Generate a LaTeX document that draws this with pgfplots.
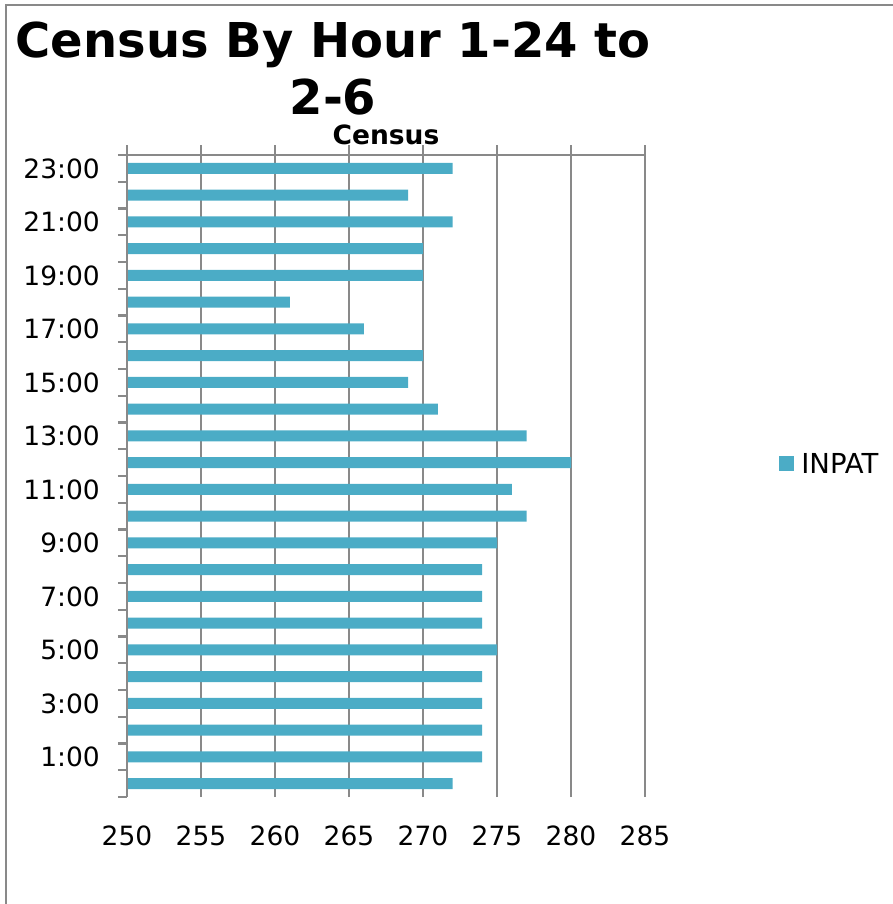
\documentclass[border=0pt]{standalone}
\usepackage{fontspec}
\setmainfont{DejaVu Sans}
\usepackage{pgfplots}
\pgfplotsset{compat=1.18}
\definecolor{inpat}{HTML}{4BACC6}
\definecolor{gridgray}{HTML}{898989}

\begin{document}
\begin{tikzpicture}
\useasboundingbox (0,0) rectangle (893pt,-904pt);
% chart frame (only left and top edges fall inside the picture)
\draw[gridgray, line width=2pt] (6pt,-930pt) -- (6pt,-5pt) -- (920pt,-5pt);

\node[font=\bfseries\fontsize{48}{57}\selectfont, anchor=base] at (333pt,-58pt) {Census By Hour 1-24 to};
\node[font=\bfseries\fontsize{48}{57}\selectfont, anchor=base] at (333pt,-115pt) {2-6};
\node[font=\bfseries\fontsize{26.5}{30}\selectfont, anchor=base] at (386pt,-145pt) {Census};

\begin{axis}[
    name=ax,
    at={(127pt,-797pt)}, anchor=south west,
    scale only axis, width=518pt, height=642pt,
    xmin=250, xmax=285, ymin=-0.5, ymax=23.5,
    xbar, bar width=11pt, bar shift=0pt,
    axis line style={draw=none},
    tick align=outside,
    major tick length=10pt, minor tick length=9pt,
    xtick={250,255,...,285},
    xtick pos=right, xticklabel pos=left,
    xmajorgrids,
    grid style={gridgray, line width=2.2pt},
    major x tick style={gridgray, line width=2.2pt},
    ytick={1,3,...,23},
    yticklabels={1:00,3:00,5:00,7:00,9:00,11:00,13:00,15:00,17:00,19:00,21:00,23:00},
    ytick pos=left,
    major y tick style={draw=none},
    minor ytick={-0.5,0.5,...,23.5},
    minor y tick style={gridgray, line width=2.2pt},
    /pgf/number format/assume math mode=true,
    ticklabel style={font=\fontsize{26.5}{30}\selectfont, inner sep=0pt},
    xticklabel style={yshift=-19pt},
    yticklabel style={xshift=-17pt},
    legend style={at={(1.259,0.519)}, anchor=west, draw=none, fill=none,
        font=\fontsize{27.5}{30}\selectfont, inner sep=0pt,
        nodes={inner xsep=7pt}},
    legend image code/.code={\fill[inpat] (0pt,-7.5pt) rectangle (15pt,7.5pt);},
]
\addplot[fill=inpat, draw=none] coordinates {
    (272,0) (274,1) (274,2) (274,3) (274,4) (275,5) (274,6) (274,7)
    (274,8) (275,9) (277,10) (276,11) (280,12) (277,13) (271,14) (269,15)
    (270,16) (266,17) (261,18) (270,19) (270,20) (272,21) (269,22) (272,23)
};
\addlegendentry{INPAT}
\end{axis}
\draw[gridgray, line width=2.2pt] (ax.south west) -- (ax.north west) -- (ax.north east);
\end{tikzpicture}
\end{document}
